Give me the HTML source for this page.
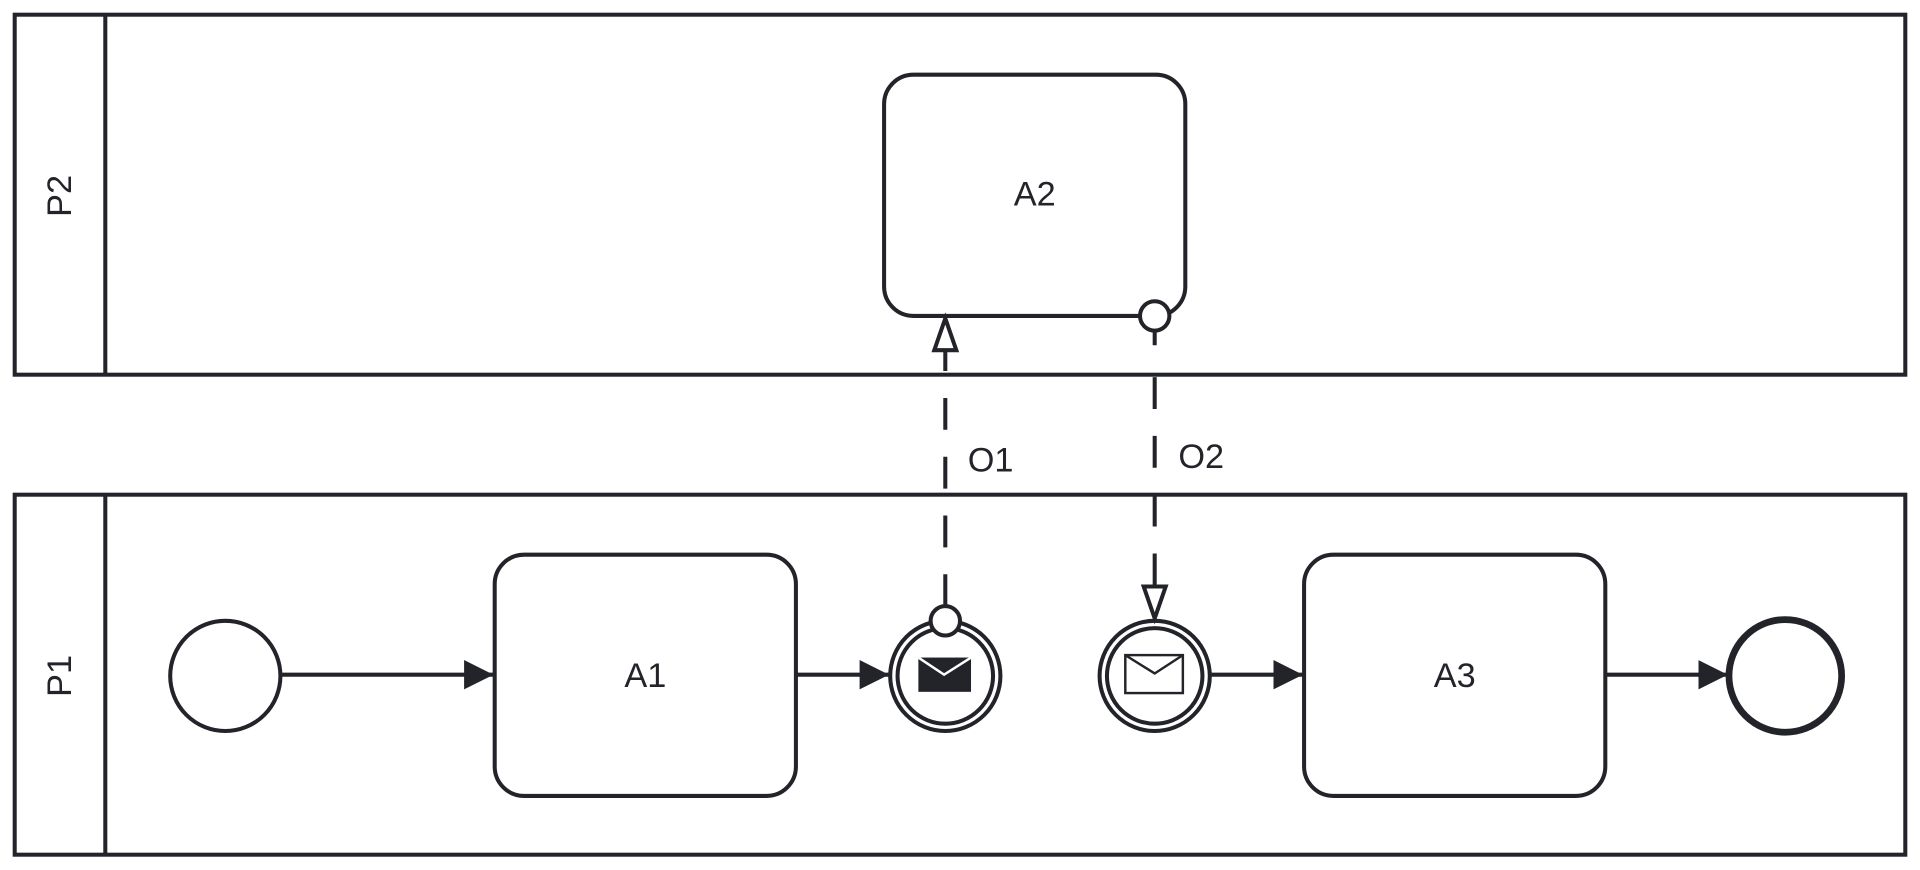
<!DOCTYPE html>
<html><head><meta charset="utf-8"><style>html,body{margin:0;padding:0;background:#fff}svg{display:block}</style></head>
<body>
<svg width="1920" height="870" viewBox="0 0 1568 710.5" preserveAspectRatio="none" xmlns="http://www.w3.org/2000/svg">
<defs>
<marker id="sa" viewBox="0 0 24 26" refX="24" refY="13" markerWidth="24" markerHeight="26" markerUnits="userSpaceOnUse" orient="auto">
<path d="M0,1 L24,13 L0,25 Z" fill="#22242a"/></marker>
</defs>
<g fill="none" stroke="#22242a" stroke-width="3.3">
<rect x="12" y="12" width="1544" height="294" fill="#fff"/>
<line x1="86" y1="12" x2="86" y2="306"/>
<rect x="12" y="404" width="1544" height="294" fill="#fff"/>
<line x1="86" y1="404" x2="86" y2="698"/>
<rect x="722" y="61" width="246" height="197" rx="24" fill="#fff"/>
<rect x="404" y="453" width="246" height="197" rx="24" fill="#fff"/>
<rect x="1065" y="453" width="246" height="197" rx="24" fill="#fff"/>
<circle cx="184" cy="552" r="45" fill="#fff"/>
<circle cx="1458" cy="552" r="46" stroke-width="5.5" fill="#fff"/>
<circle cx="772" cy="552" r="45" fill="#fff"/>
<circle cx="772" cy="552" r="39"/>
<circle cx="943" cy="552" r="45" fill="#fff"/>
<circle cx="943" cy="552" r="39"/>
<line x1="229" y1="551" x2="403" y2="551" marker-end="url(#sa)"/>
<line x1="650" y1="551" x2="726" y2="551" marker-end="url(#sa)"/>
<line x1="988" y1="551" x2="1064" y2="551" marker-end="url(#sa)"/>
<line x1="1311" y1="551" x2="1411" y2="551" marker-end="url(#sa)"/>
<line x1="772" y1="495" x2="772" y2="286" stroke-dasharray="26 22"/>
<path d="M772,260 L781,286 L763,286 Z" fill="#fff"/>
<circle cx="772" cy="507" r="12" fill="#fff"/>
<line x1="943" y1="270" x2="943" y2="479" stroke-dasharray="12 26 26 22 26 22 26 22 26 22"/>
<path d="M943,505 L934,479 L952,479 Z" fill="#fff"/>
<circle cx="943" cy="258" r="12" fill="#fff"/>
</g>
<rect x="750" y="537" width="43" height="28" fill="#22242a"/>
<path d="M750,537 L771,551 L793,537" fill="none" stroke="#fff" stroke-width="2"/>
<rect x="919" y="535" width="47" height="31" fill="none" stroke="#22242a" stroke-width="2"/>
<path d="M919,535 L943,550 L966,535" fill="none" stroke="#22242a" stroke-width="2"/>
<g font-family="Liberation Sans, sans-serif" font-size="28" fill="#22242a" text-anchor="middle">
<text x="845" y="168">A2</text>
<text x="527" y="561">A1</text>
<text x="1188" y="561">A3</text>
<text x="809" y="385">O1</text>
<text x="981" y="382">O2</text>
<text transform="translate(58,160) rotate(-90)">P2</text>
<text transform="translate(58,552) rotate(-90)">P1</text>
</g>
</svg>
</body></html>
